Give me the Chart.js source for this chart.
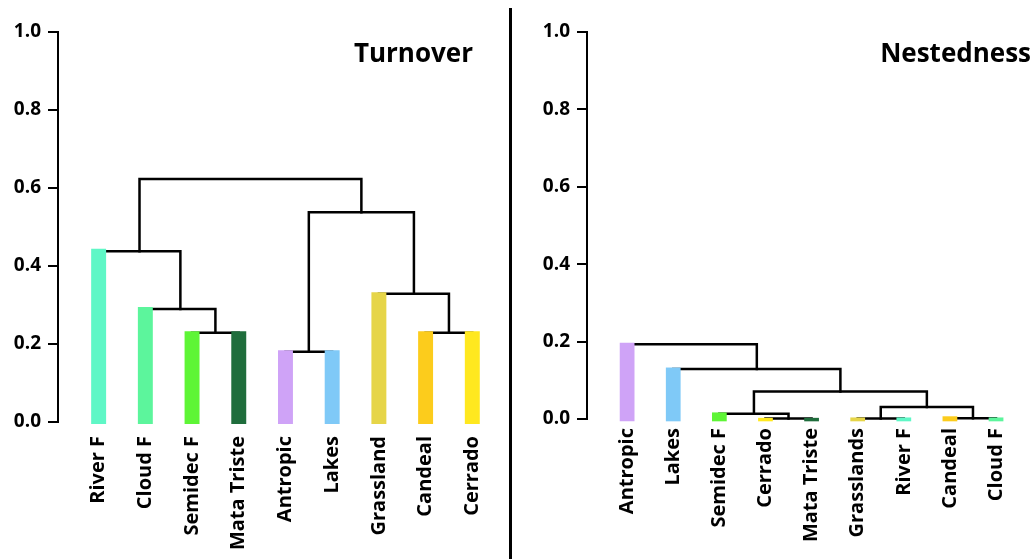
<!DOCTYPE html>
<html>
<head>
<meta charset="utf-8">
<script src="https://cdn.jsdelivr.net/npm/chart.js@4.4.1/dist/chart.umd.min.js"></script>
<style>
  html, body { margin: 0; padding: 0; background: #fff; width: 1032px; height: 559px; overflow: hidden; }
  #wrap { position: relative; width: 1032px; height: 559px; }
  #c1 { position: absolute; left: 0; top: 0; }
  #c2 { position: absolute; left: 515px; top: 0; }
  #divider { position: absolute; left: 509px; top: 8px; width: 3px; height: 551px; background: #000; }
</style>
</head>
<body>
<div id="wrap">
  <canvas id="c1" width="505" height="559"></canvas>
  <div id="divider"></div>
  <canvas id="c2" width="517" height="559"></canvas>
</div>
<script>
// ---------------- data ----------------
const yTickValues = [0, 0.2, 0.4, 0.6, 0.8, 1.0];

// Turnover panel
const turnoverLeaves = ['River F', 'Cloud F', 'Semidec F', 'Mata Triste', 'Antropic', 'Lakes', 'Grassland', 'Candeal', 'Cerrado'];
const turnoverBarHeights = [0.444, 0.295, 0.233, 0.233, 0.184, 0.184, 0.333, 0.233, 0.233];
// merges: [child A, child B, height]; children 0..8 = leaves, 9.. = earlier merges
const turnoverMerges = [
  [2, 3, 0.229],
  [1, 9, 0.290],
  [0, 10, 0.438],
  [4, 5, 0.180],
  [7, 8, 0.229],
  [6, 13, 0.329],
  [12, 14, 0.538],
  [11, 15, 0.623]
];

// Nestedness panel
const nestednessLeaves = ['Antropic', 'Lakes', 'Semidec F', 'Cerrado', 'Mata Triste', 'Grasslands', 'River F', 'Candeal', 'Cloud F'];
const nestednessBarHeights = [0.197, 0.133, 0.017, 0.003, 0.003, 0.004, 0.004, 0.007, 0.004];
const nestednessMerges = [
  [3, 4, 0.001],
  [2, 9, 0.0135],
  [5, 6, 0.001],
  [7, 8, 0.002],
  [11, 12, 0.031],
  [10, 13, 0.071],
  [1, 14, 0.129],
  [0, 15, 0.193]
];

const leafColors = {
  'River F': '#5ff7c6',
  'Cloud F': '#5cf59c',
  'Semidec F': '#5ef536',
  'Mata Triste': '#1f6d3c',
  'Antropic': '#cfa3f7',
  'Lakes': '#7fc9f7',
  'Grassland': '#e6d548',
  'Grasslands': '#e6d548',
  'Candeal': '#fccc1c',
  'Cerrado': '#ffe81f'
};

// ---------------- chart building ----------------
const FONT = "'Open Sans', 'DejaVu Sans', sans-serif";

const panelTitle = {
  id: 'panelTitle',
  afterDraw(chart, args, opts) {
    const ctx = chart.ctx;
    ctx.save();
    ctx.font = 'bold 26px ' + FONT;
    ctx.fillStyle = '#000';
    ctx.textAlign = 'right';
    ctx.textBaseline = 'alphabetic';
    ctx.fillText(opts.text, opts.x, opts.y);
    ctx.restore();
  }
};

function buildLinks(n, merges) {
  const pos = [];
  const hgt = [];
  for (let i = 0; i < n; i++) { pos.push(i); hgt.push(null); }
  const links = [];
  merges.forEach(([a, b, h]) => {
    const xa = pos[a], xb = pos[b];
    const ya = a < n ? h : hgt[a];
    const yb = b < n ? h : hgt[b];
    links.push([
      { x: xa, y: ya }, { x: xa, y: h }, { x: xb, y: h }, { x: xb, y: yb }
    ]);
    pos.push((xa + xb) / 2);
    hgt.push(h);
  });
  return links;
}

function makeChart(id, title, leaves, bars, merges, layoutCfg) {
  const n = leaves.length;
  const links = buildLinks(n, merges);
  const datasets = [{
    type: 'bar',
    data: bars.map((v, i) => ({ x: i, y: v })),
    backgroundColor: leaves.map(l => leafColors[l]),
    borderWidth: 0,
    base: layoutCfg.barBase,
    barPercentage: 0.32,
    categoryPercentage: 1,
    clip: false,
    order: 0
  }];
  links.forEach(pts => datasets.push({
    type: 'line',
    data: pts,
    borderColor: '#000',
    borderWidth: 2.5,
    pointRadius: 0,
    tension: 0,
    fill: false,
    clip: false,
    order: 1,
    borderCapStyle: 'square',
    borderJoinStyle: 'miter'
  }));

  return new Chart(document.getElementById(id), {
    type: 'bar',
    data: { datasets },
    plugins: [panelTitle],
    options: {
      responsive: false,
      animation: false,
      events: [],
      layout: { padding: { top: 32, left: 0, right: 0, bottom: 0 } },
      plugins: {
        legend: { display: false },
        tooltip: { enabled: false },
        panelTitle: { text: title, x: layoutCfg.titleX, y: 62 }
      },
      scales: {
        x: {
          type: 'linear',
          min: -0.87,
          max: layoutCfg.xMax,
          offset: false,
          grid: { display: false, drawTicks: false },
          border: { display: false },
          afterBuildTicks: (scale) => { scale.ticks = leaves.map((_, i) => ({ value: i })); },
          afterFit: (scale) => { scale.height = layoutCfg.xAxisHeight; scale.paddingLeft = 0; scale.paddingRight = 0; },
          ticks: {
            autoSkip: false,
            minRotation: 90,
            maxRotation: 90,
            padding: layoutCfg.labelPad,
            color: '#000',
            font: { family: FONT, size: 20, weight: 'bold' },
            callback: (v) => leaves[v]
          }
        },
        y: {
          type: 'linear',
          min: 0,
          max: 1,
          grid: { display: true, drawOnChartArea: false, drawTicks: true, tickLength: 10, color: '#000', lineWidth: 2 },
          border: { display: true, color: '#000', width: 2 },
          afterBuildTicks: (scale) => { scale.ticks = yTickValues.map(v => ({ value: v })); },
          afterFit: (scale) => { scale.width = layoutCfg.yAxisWidth; },
          ticks: {
            padding: 7,
            color: '#000',
            font: { family: FONT, size: 19, weight: 'bold' },
            callback: (v) => Number(v).toFixed(1)
          }
        }
      }
    }
  });
}

makeChart('c1', 'Turnover', turnoverLeaves, turnoverBarHeights, turnoverMerges,
  { xMax: 8.70, xAxisHeight: 137, yAxisWidth: 58, labelPad: 14, titleX: 473, barBase: -0.005 });
makeChart('c2', 'Nestedness', nestednessLeaves, nestednessBarHeights, nestednessMerges,
  { xMax: 8.78, xAxisHeight: 140, yAxisWidth: 72, labelPad: 9, titleX: 516, barBase: -0.006 });
</script>
</body>
</html>
